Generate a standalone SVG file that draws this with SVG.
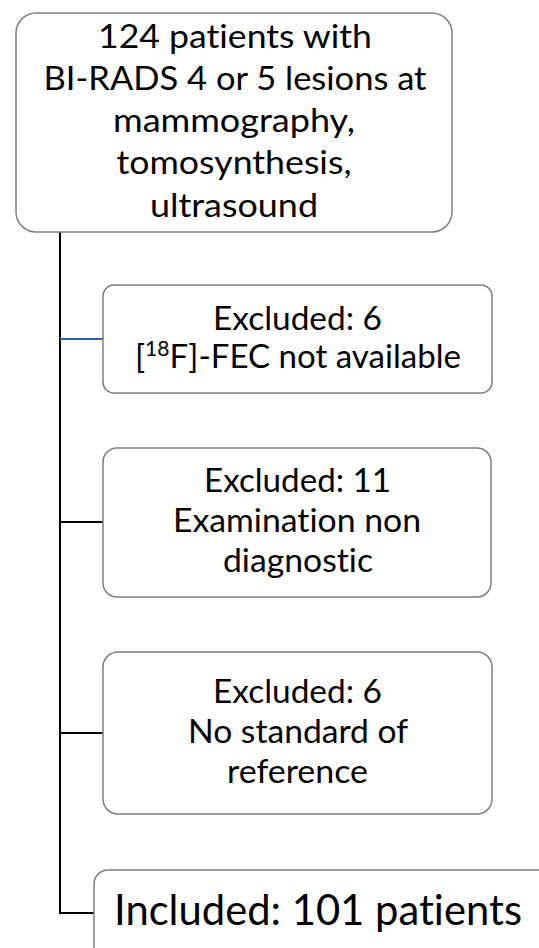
<svg xmlns="http://www.w3.org/2000/svg" width="539" height="948" viewBox="0 0 539 948">
<style>
.box{fill:#ffffff;stroke:#808080;stroke-width:1.5}
.t{font-family:Lato,"Open Sans","Liberation Sans",sans-serif;font-size:33px;fill:#000;text-anchor:middle;font-variant-ligatures:none;font-feature-settings:"liga" 0}
.big{font-size:43px}
.c{fill:none;stroke:#000;stroke-width:2}
.cb{fill:none;stroke:#2f5ea8;stroke-width:2}
</style>
<rect width="539" height="948" fill="#ffffff"/>
<g id="connectors">
<line class="c" x1="60" y1="232" x2="60" y2="914"/>
<line class="cb" x1="60" y1="339" x2="103" y2="339"/>
<line class="c" x1="60" y1="522" x2="103" y2="522"/>
<line class="c" x1="60" y1="733" x2="103" y2="733"/>
<line class="c" x1="59" y1="913" x2="94" y2="913"/>
</g>
<g id="n1">
<rect class="box" x="16" y="13" width="436" height="219" rx="20"/>
<text class="t" x="235" y="48" textLength="274" lengthAdjust="spacingAndGlyphs">124 patients with</text>
<text class="t" x="235" y="90" textLength="383" lengthAdjust="spacingAndGlyphs">BI-RADS 4 or 5 lesions at</text>
<text class="t" x="234" y="132" textLength="242" lengthAdjust="spacingAndGlyphs">mammography,</text>
<text class="t" x="234" y="174" textLength="235" lengthAdjust="spacingAndGlyphs">tomosynthesis,</text>
<text class="t" x="234" y="217" textLength="168" lengthAdjust="spacingAndGlyphs">ultrasound</text>
</g>
<g id="n2">
<rect class="box" x="103" y="285" width="389" height="108" rx="11"/>
<text class="t" x="297.5" y="330" textLength="169" lengthAdjust="spacingAndGlyphs">Excluded: 6</text>
<text class="t" x="298" y="368" textLength="326" lengthAdjust="spacingAndGlyphs">[<tspan font-size="21" dy="-12">18</tspan><tspan dy="12">F]-FEC not available</tspan></text>
</g>
<g id="n3">
<rect class="box" x="103" y="448" width="388" height="149" rx="14"/>
<text class="t" x="297.5" y="492" textLength="187" lengthAdjust="spacingAndGlyphs">Excluded: 11</text>
<text class="t" x="297" y="532" textLength="248" lengthAdjust="spacingAndGlyphs">Examination non</text>
<text class="t" x="298" y="572" textLength="150" lengthAdjust="spacingAndGlyphs">diagnostic</text>
</g>
<g id="n4">
<rect class="box" x="103" y="652" width="389" height="162" rx="15"/>
<text class="t" x="297.5" y="703" textLength="169" lengthAdjust="spacingAndGlyphs">Excluded: 6</text>
<text class="t" x="298" y="743" textLength="220" lengthAdjust="spacingAndGlyphs">No standard of</text>
<text class="t" x="297.5" y="783" textLength="141" lengthAdjust="spacingAndGlyphs">reference</text>
</g>
<g id="n5">
<rect class="box" x="94" y="870" width="480" height="120" rx="14"/>
<text class="t big" x="318" y="925" textLength="408" lengthAdjust="spacingAndGlyphs">Included: 101 patients</text>
</g>
</svg>
